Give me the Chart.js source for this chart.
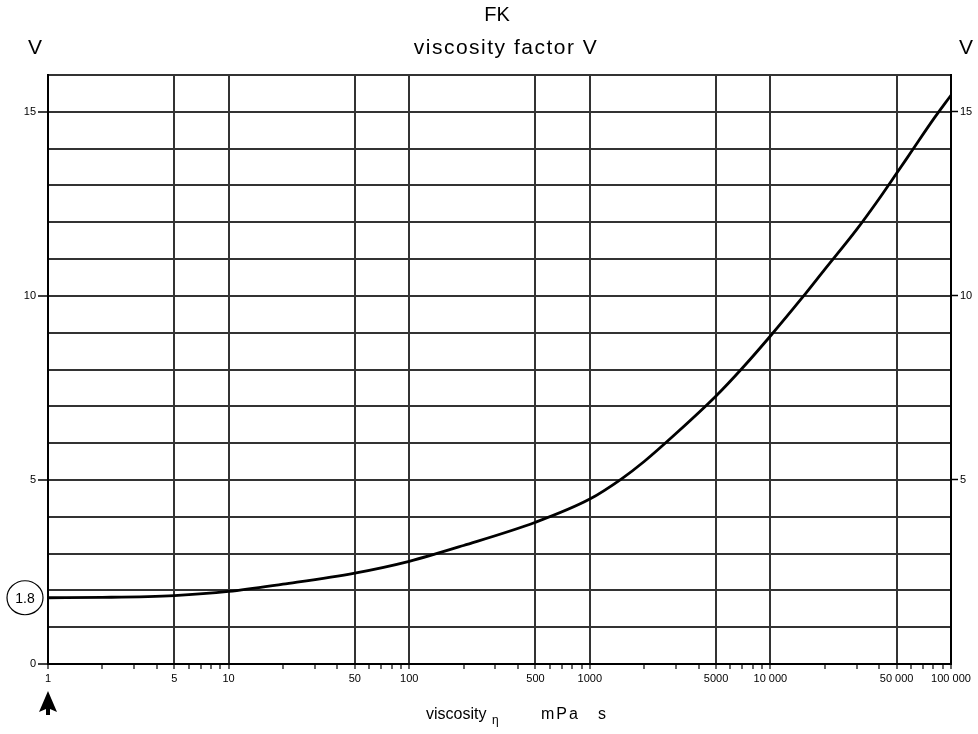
<!DOCTYPE html>
<html>
<head>
<meta charset="utf-8">
<script src="https://cdn.jsdelivr.net/npm/chart.js@4/dist/chart.umd.min.js"></script>
<style>
  body { margin: 0; background: #fff; }
  #wrap { width: 978px; height: 734px; }
</style>
</head>
<body>
<div id="wrap"><canvas id="vChart" width="978" height="734"></canvas></div>
<script>
// viscosity in mPa s and the matching viscosity factor V
const viscosity = [1, 2, 5, 10, 20, 50, 100, 200, 500, 1000, 1500, 2000, 3000, 5000, 7000, 10000, 15000, 20000, 30000, 40000, 50000, 60000, 80000, 100000]
const factorV = [1.8, 1.81, 1.86, 1.97, 2.17, 2.47, 2.79, 3.22, 3.85, 4.48, 5.03, 5.5, 6.26, 7.28, 8.04, 8.91, 9.95, 10.72, 11.8, 12.64, 13.33, 13.9, 14.8, 15.45]

// labelled x ticks (these also get grid lines)
const xTickValues = [1, 5, 10, 50, 100, 500, 1000, 5000, 10000, 50000, 100000]
const xTickLabels = ['1', '5', '10', '50', '100', '500', '1000', '5000', '10 000', '50 000', '100 000']
const yTickLabels = [0, 5, 10, 15]

const startValue = factorV[0]
const FONT = "'Liberation Sans', Arial, sans-serif"
const GRID = '#333'

// every 1..9 multiple per decade gets a small tick mark on the x axis
const xMinorTicks = []
for (let d = 1; d <= 10000; d *= 10) {
  for (let m = 1; m < 10; m++) xMinorTicks.push(m * d)
}
xMinorTicks.push(100000)

const isMajorX = v => xTickValues.includes(v)
const isLabelY = v => yTickLabels.includes(v)

const decorations = {
  id: 'decorations',
  afterDraw(chart) {
    const ctx = chart.ctx
    const x = chart.scales.x
    const y = chart.scales.y
    ctx.save()
    ctx.fillStyle = '#000'
    ctx.strokeStyle = '#000'
    ctx.textBaseline = 'middle'
    ctx.textAlign = 'center'

    ctx.font = `20px ${FONT}`
    ctx.fillText('FK', 497, 15)
    ctx.font = `21px ${FONT}`
    ctx.letterSpacing = '1.5px'
    ctx.fillText('viscosity factor V', 506, 48)
    ctx.letterSpacing = '0px'
    ctx.fillText('V', 35, 48)
    ctx.fillText('V', 966, 48)

    // x axis title with small eta
    ctx.textAlign = 'left'
    ctx.font = `16px ${FONT}`
    ctx.fillText('viscosity', 426, 715)
    ctx.font = `12px ${FONT}`
    ctx.fillText('η', 492, 721)
    ctx.font = `16px ${FONT}`
    ctx.letterSpacing = '2px'
    ctx.fillText('mPa', 541, 715)
    ctx.letterSpacing = '0px'
    ctx.fillText('s', 598, 715)

    // starting value marker
    const py = y.getPixelForValue(startValue)
    ctx.lineWidth = 1.2
    ctx.beginPath()
    ctx.ellipse(25, py, 18, 17, 0, 0, Math.PI * 2)
    ctx.stroke()
    ctx.textAlign = 'center'
    ctx.font = `14px ${FONT}`
    ctx.fillText(startValue.toFixed(1), 25, py + 1)

    // arrow under x = 1
    const ax = x.getPixelForValue(viscosity[0])
    ctx.beginPath()
    ctx.moveTo(ax, 691)
    ctx.lineTo(ax - 9, 712)
    ctx.lineTo(ax - 2, 709)
    ctx.lineTo(ax - 2, 715)
    ctx.lineTo(ax + 2, 715)
    ctx.lineTo(ax + 2, 709)
    ctx.lineTo(ax + 9, 712)
    ctx.closePath()
    ctx.fill()
    ctx.restore()
  }
}

new Chart(document.getElementById('vChart'), {
  type: 'line',
  data: {
    datasets: [{
      data: viscosity.map((v, i) => ({ x: v, y: factorV[i] })),
      borderColor: '#000',
      borderWidth: 2.8,
      pointRadius: 0,
      fill: false,
      cubicInterpolationMode: 'monotone'
    }]
  },
  options: {
    responsive: false,
    animation: false,
    layout: { padding: { top: 75 } },
    plugins: { legend: { display: false }, tooltip: { enabled: false } },
    scales: {
      x: {
        type: 'logarithmic',
        min: 1,
        max: 100000,
        afterFit: s => { s.height = 70 },
        afterBuildTicks: s => { s.ticks = xMinorTicks.map(v => ({ value: v })) },
        border: { display: true, color: '#000', width: 2 },
        grid: {
          color: c => (c.tick && isMajorX(c.tick.value) ? GRID : 'rgba(0,0,0,0)'),
          lineWidth: 2,
          tickColor: '#000',
          tickLength: 5,
          tickWidth: 1.2
        },
        ticks: {
          autoSkip: false,
          maxRotation: 0,
          padding: 3,
          color: '#000',
          font: { family: FONT, size: 11 },
          callback: v => {
            const i = xTickValues.indexOf(v)
            return i >= 0 ? xTickLabels[i] : ''
          }
        }
      },
      y: {
        position: 'left',
        min: 0,
        max: 16,
        afterFit: s => { s.width = 48 },
        border: { display: true, color: '#000', width: 2 },
        grid: {
          color: c => (c.tick && c.tick.value > 0 ? GRID : 'rgba(0,0,0,0)'),
          lineWidth: 2,
          tickColor: c => (c.tick && isLabelY(c.tick.value) ? '#000' : 'rgba(0,0,0,0)'),
          tickLength: 10,
          tickWidth: 1.5
        },
        ticks: {
          stepSize: 1,
          padding: 2,
          color: '#000',
          font: { family: FONT, size: 11 },
          callback: v => (isLabelY(v) ? String(v) : '')
        }
      },
      y2: {
        position: 'right',
        min: 0,
        max: 16,
        afterFit: s => { s.width = 27 },
        border: { display: true, color: '#000', width: 2 },
        grid: {
          drawOnChartArea: false,
          tickColor: c => (c.tick && isLabelY(c.tick.value) && c.tick.value > 0 ? '#000' : 'rgba(0,0,0,0)'),
          tickLength: 7,
          tickWidth: 1.5
        },
        ticks: {
          stepSize: 1,
          padding: 2,
          color: '#000',
          font: { family: FONT, size: 11 },
          callback: v => (isLabelY(v) && v > 0 ? String(v) : '')
        }
      }
    }
  },
  plugins: [decorations]
})
</script>
</body>
</html>
